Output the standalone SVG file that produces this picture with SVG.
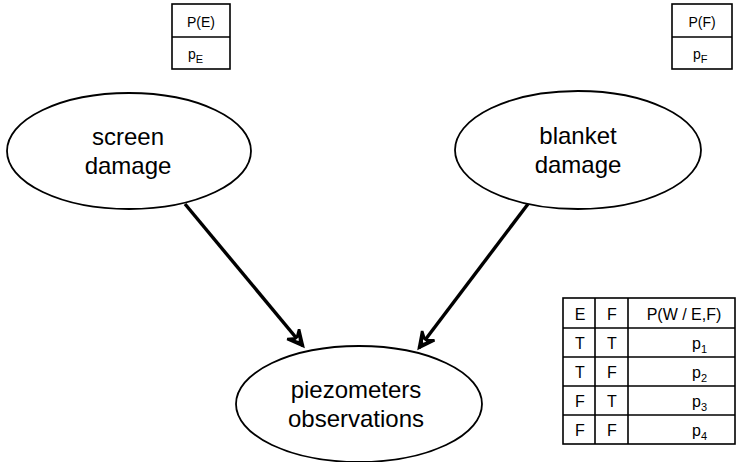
<svg xmlns="http://www.w3.org/2000/svg" width="736" height="462" viewBox="0 0 736 462">
<defs>
<style>
.node{fill:#fff;stroke:#000;stroke-width:1.8}
.lbl{font-family:"Liberation Sans",Arial,sans-serif;font-size:24px;fill:#000;text-anchor:middle}
.cell{fill:#fff;stroke:#000;stroke-width:1.6}
.ln{stroke:#000;stroke-width:1.6}
.t{font-family:"Liberation Sans",Arial,sans-serif;font-size:16px;fill:#000}
.s{font-size:14px}
.tc{text-anchor:middle}
.sub{font-size:11px}
.edge{stroke:#000;stroke-width:3.4;fill:none}
</style>
<marker id="arr" markerUnits="userSpaceOnUse" markerWidth="22" markerHeight="22" refX="17" refY="9" orient="auto" viewBox="0 0 20 18">
<path d="M3,2 L17,9 L3,16 L8,9 Z" fill="#000" stroke="#000" stroke-width="2.4" stroke-linejoin="miter"/>
<path d="M8.5,7.2 L11,9 L8.5,10.8 Z" fill="#fff"/>
</marker>
</defs>
<rect width="736" height="462" fill="#fff"/>

<g id="edges">
<line class="edge" x1="185" y1="204" x2="303" y2="346" marker-end="url(#arr)"/>
<line class="edge" x1="528" y1="204" x2="419" y2="348" marker-end="url(#arr)"/>
</g>

<g id="screen">
<ellipse class="node" cx="129" cy="151" rx="122" ry="58"/>
<text class="lbl" x="128" y="145">screen</text>
<text class="lbl" x="128" y="174">damage</text>
</g>

<g id="blanket">
<ellipse class="node" cx="578" cy="150" rx="123" ry="59"/>
<text class="lbl" x="578" y="144">blanket</text>
<text class="lbl" x="578" y="173">damage</text>
</g>

<g id="piezometers">
<ellipse class="node" cx="359" cy="404" rx="123" ry="58"/>
<text class="lbl" x="356" y="398">piezometers</text>
<text class="lbl" x="356" y="427">observations</text>
</g>

<g id="tableE">
<rect class="cell" x="172" y="4" width="58" height="65"/>
<line class="ln" x1="172" y1="37" x2="230" y2="37"/>
<text class="t s tc" x="201" y="27">P(E)</text>
<text class="t s" x="188" y="59">p<tspan class="sub" dy="4">E</tspan></text>
</g>

<g id="tableF">
<rect class="cell" x="672" y="4" width="60" height="65"/>
<line class="ln" x1="672" y1="37" x2="732" y2="37"/>
<text class="t s tc" x="702" y="27">P(F)</text>
<text class="t s" x="693" y="59">p<tspan class="sub" dy="4">F</tspan></text>
</g>

<g id="tableW">
<rect class="cell" x="563" y="298" width="172" height="146"/>
<line class="ln" x1="595" y1="298" x2="595" y2="444"/>
<line class="ln" x1="628" y1="298" x2="628" y2="444"/>
<line class="ln" x1="563" y1="328" x2="735" y2="328"/>
<line class="ln" x1="563" y1="357" x2="735" y2="357"/>
<line class="ln" x1="563" y1="386" x2="735" y2="386"/>
<line class="ln" x1="563" y1="415" x2="735" y2="415"/>
<text class="t tc" x="580" y="320">E</text>
<text class="t tc" x="612" y="320">F</text>
<text class="t tc" x="684" y="320">P(W / E,F)</text>
<text class="t tc" x="580" y="349">T</text>
<text class="t tc" x="612" y="349">T</text>
<text class="t" x="692" y="349">p<tspan class="sub" dy="4">1</tspan></text>
<text class="t tc" x="580" y="378">T</text>
<text class="t tc" x="612" y="378">F</text>
<text class="t" x="692" y="378">p<tspan class="sub" dy="4">2</tspan></text>
<text class="t tc" x="580" y="407">F</text>
<text class="t tc" x="612" y="407">T</text>
<text class="t" x="692" y="407">p<tspan class="sub" dy="4">3</tspan></text>
<text class="t tc" x="580" y="436">F</text>
<text class="t tc" x="612" y="436">F</text>
<text class="t" x="692" y="436">p<tspan class="sub" dy="4">4</tspan></text>
</g>
</svg>
